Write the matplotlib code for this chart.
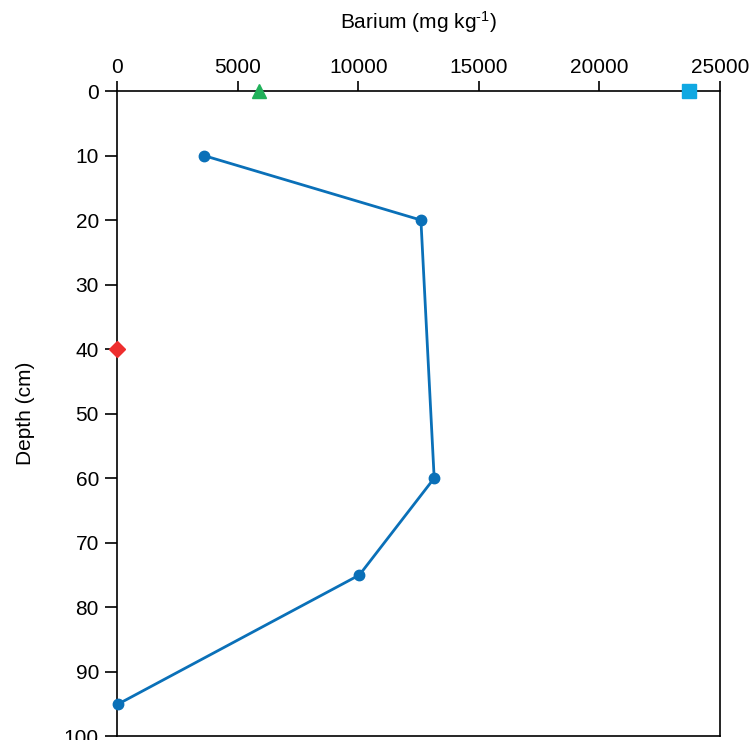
import matplotlib
matplotlib.use("Agg")
import matplotlib.pyplot as plt

plt.rcParams['font.family'] = ['Liberation Sans', 'DejaVu Sans']
plt.rcParams['mathtext.fontset'] = 'custom'
plt.rcParams['mathtext.rm'] = 'Liberation Sans'
plt.rcParams['mathtext.default'] = 'regular'

# Data
depth_profile = [10, 20, 60, 75, 95]
barium_profile = [3600, 12600, 13150, 10050, 50]

triangle_x, triangle_depth = [5870], [0]
square_x, square_depth = [23720], [0]
diamond_x, diamond_depth = [0], [40]

x_ticks = [0, 5000, 10000, 15000, 20000, 25000]
y_ticks = [0, 10, 20, 30, 40, 50, 60, 70, 80, 90, 100]

fig = plt.figure(figsize=(7.5, 7.4), dpi=100)
ax = fig.add_axes([0.156, 0.005, 0.804, 0.872])

ax.plot(barium_profile, depth_profile, color='#0A70B8', lw=2.0, marker='o',
        markersize=7.5, zorder=3, clip_on=False)
ax.plot(triangle_x, triangle_depth, marker='^', color='#21B15A', markersize=10,
        linestyle='none', clip_on=False, zorder=4)
ax.plot(square_x, square_depth, marker='s', color='#10A8E2', markersize=10,
        linestyle='none', clip_on=False, zorder=4)
ax.plot(diamond_x, diamond_depth, marker='D', color='#EE2E2E', markersize=8,
        linestyle='none', clip_on=False, zorder=4)

ax.set_xlim(0, 25000)
ax.set_ylim(100, 0)
ax.set_xticks(x_ticks)
ax.set_yticks(y_ticks)
ax.xaxis.tick_top()
ax.xaxis.set_label_position('top')
ax.tick_params(axis='both', direction='out', width=1.2, labelsize=15,
               colors='black')
ax.tick_params(axis='x', length=7.5, pad=2.6)
ax.tick_params(axis='y', length=8.5, pad=4.5)
for s in ax.spines.values():
    s.set_linewidth(1.2)

ax.set_xlabel('Barium (mg kg$^{\\text{-}1}$)', fontsize=15, labelpad=21)
ax.set_ylabel('Depth (cm)', fontsize=15, labelpad=21)

fig.savefig('out.png', dpi=100)
